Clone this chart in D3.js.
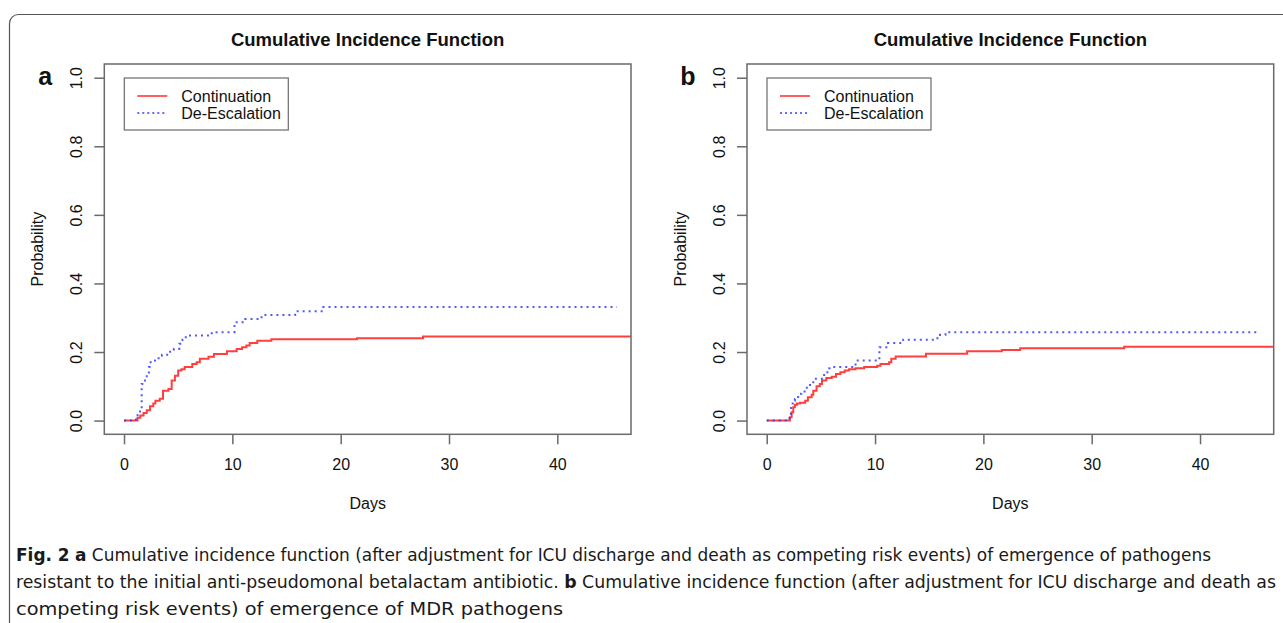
<!DOCTYPE html>
<html><head><meta charset="utf-8">
<script src="https://cdn.jsdelivr.net/npm/d3@7"></script>
<style>body{margin:0;background:#fff}svg{display:block}</style>
</head><body>
<script>
// ---------- data ----------
const chartTitle = "Cumulative Incidence Function";
const panelLabels = ["a", "b"];
const seriesNames = ["Continuation", "De-Escalation"];
const xTicks = [0, 10, 20, 30, 40];
const yTicks = [0, 0.2, 0.4, 0.6, 0.8, 1.0];
const yTickLabels = ["0.0", "0.2", "0.4", "0.6", "0.8", "1.0"];
const xLabel = "Days";
const yLabel = "Probability";

// Panel a – Continuation (days, cumulative incidence)
const aContDays = [0, 1.25, 1.5, 1.8, 2.1, 2.4, 2.7, 2.9, 3.3, 3.6, 4.1, 4.4, 4.7, 5.0, 5.3, 5.6, 6.3, 6.7, 7.0, 7.8, 8.3, 9.5, 10.4, 10.9, 11.3, 11.6, 12.3, 13.6, 21.5, 27.6, 46.8];
const aContProb = [0, 0.008, 0.015, 0.022, 0.03, 0.042, 0.05, 0.058, 0.064, 0.087, 0.092, 0.117, 0.131, 0.146, 0.150, 0.156, 0.165, 0.170, 0.180, 0.186, 0.194, 0.202, 0.209, 0.214, 0.219, 0.226, 0.233, 0.237, 0.240, 0.245, 0.245];
// Panel a – De-Escalation
const aDeDays = [0, 1.1, 1.25, 1.48, 1.63, 1.94, 2.1, 2.3, 2.46, 2.87, 3.5, 4.1, 4.6, 5.1, 5.4, 5.7, 8.1, 10.2, 10.4, 11.2, 12.7, 15.8, 18.4, 45.5];
const aDeProb = [0, 0.01, 0.02, 0.034, 0.107, 0.117, 0.136, 0.156, 0.175, 0.182, 0.192, 0.201, 0.209, 0.224, 0.236, 0.248, 0.258, 0.276, 0.287, 0.296, 0.308, 0.319, 0.331, 0.331];
// Panel b – Continuation
const bContDays = [0, 2.14, 2.3, 2.45, 2.6, 2.8, 3.08, 3.55, 3.8, 4.15, 4.3, 4.6, 4.9, 5.1, 5.5, 6.0, 6.4, 6.8, 7.2, 7.6, 8.2, 9.0, 10.2, 10.5, 11.3, 11.5, 11.9, 14.7, 18.5, 21.7, 23.4, 33.0, 46.8];
const bContProb = [0, 0.01, 0.024, 0.039, 0.046, 0.05, 0.052, 0.058, 0.068, 0.075, 0.087, 0.100, 0.107, 0.117, 0.124, 0.128, 0.136, 0.141, 0.146, 0.150, 0.153, 0.156, 0.160, 0.165, 0.170, 0.180, 0.187, 0.195, 0.202, 0.206, 0.211, 0.215, 0.215];
// Panel b – De-Escalation
const bDeDays = [0, 2.1, 2.25, 2.4, 2.6, 2.9, 3.2, 3.7, 4.3, 4.43, 5.3, 5.6, 5.8, 8.2, 10.4, 11.2, 12.6, 15.6, 16.0, 16.5, 45.5];
const bDeProb = [0, 0.02, 0.042, 0.058, 0.063, 0.078, 0.085, 0.104, 0.12, 0.122, 0.136, 0.153, 0.156, 0.175, 0.214, 0.226, 0.236, 0.240, 0.250, 0.258, 0.258];

const captionLines = [
  [["Fig. 2", true], ["  ", false], ["a", true], [" Cumulative incidence function (after adjustment for ICU discharge and death as competing risk events) of emergence of pathogens", false]],
  [["resistant to the initial anti-pseudomonal betalactam antibiotic. ", false], ["b", true], [" Cumulative incidence function (after adjustment for ICU discharge and death as", false]],
  [["competing risk events) of emergence of MDR pathogens", false]]
];
const captionWidths = [1195, 1260, 547];

// ---------- drawing ----------
const W = 1283, H = 623;
const svg = d3.select("body").append("svg").attr("width", W).attr("height", H)
  .style("font-family", "'Liberation Sans', Arial, Helvetica, sans-serif");
svg.append("rect").attr("width", W).attr("height", H).attr("fill", "#fff");

// outer frame
svg.append("rect").attr("x", 9.5).attr("y", 14.5).attr("width", 1320).attr("height", 700)
  .attr("rx", 9).attr("fill", "none").attr("stroke", "#555").attr("stroke-width", 1.2);

const panels = [
  {left: 104.3, label: panelLabels[0], cont: [aContDays, aContProb], de: [aDeDays, aDeProb]},
  {left: 747.0, label: panelLabels[1], cont: [bContDays, bContProb], de: [bDeDays, bDeProb]}
];
const boxW = 526.7, boxTop = 64, boxBottom = 434.3;
const colRed = "#ff2a2a", colBlue = "#2f3dff", axisCol = "#6a6a6a";
const fs = 16;

panels.forEach((p, i) => {
  const x = d3.scaleLinear().domain([-1.82, 46.8]).range([p.left, p.left + boxW]);
  const y = d3.scaleLinear().domain([-0.04, 1.04]).range([boxBottom, boxTop]);
  const g = svg.append("g");
  const cx = (p.left + p.left + boxW) / 2;

  // title
  g.append("text").attr("x", cx).attr("y", 46).attr("text-anchor", "middle")
    .attr("font-weight", "bold").attr("font-size", 18.5).attr("fill", "#111").text(chartTitle);
  // panel letter
  g.append("text").attr("x", p.left - 59).attr("y", 85).attr("text-anchor", "middle")
    .attr("font-weight", "bold").attr("font-size", 25).attr("fill", "#111").text(p.label);

  // clip
  const cid = "clip" + i;
  svg.append("clipPath").attr("id", cid).append("rect")
    .attr("x", p.left).attr("y", boxTop).attr("width", boxW).attr("height", boxBottom - boxTop);

  const line = d3.line().x(d => x(d[0])).y(d => y(d[1])).curve(d3.curveStepAfter);
  const contPts = p.cont[0].map((d, k) => [d, p.cont[1][k]]);
  const dePts = p.de[0].map((d, k) => [d, p.de[1][k]]);
  const cg = g.append("g").attr("clip-path", `url(#${cid})`);
  cg.append("path").attr("d", line(contPts)).attr("fill", "none")
    .attr("stroke", colRed).attr("stroke-width", 2).attr("opacity", 0.9);
  cg.append("path").attr("d", line(dePts)).attr("fill", "none")
    .attr("stroke", colBlue).attr("stroke-width", 2).attr("stroke-dasharray", "2,4").attr("opacity", 0.85);

  // box
  g.append("rect").attr("x", p.left).attr("y", boxTop).attr("width", boxW).attr("height", boxBottom - boxTop)
    .attr("fill", "none").attr("stroke", axisCol).attr("stroke-width", 1.5);

  // x axis
  const xa = g.append("g").attr("transform", `translate(0,${boxBottom})`)
    .call(d3.axisBottom(x).tickValues(xTicks).tickSize(10).tickSizeOuter(0).tickPadding(14).tickFormat(d3.format("d")));
  xa.select(".domain").remove();
  xa.selectAll(".tick line").attr("stroke", axisCol).attr("stroke-width", 1.5);
  xa.selectAll(".tick text").attr("font-size", fs).attr("fill", "#111").attr("font-family", null);

  // y axis
  const ya = g.append("g").attr("transform", `translate(${p.left},0)`)
    .call(d3.axisLeft(y).tickValues(yTicks).tickSize(10).tickSizeOuter(0).tickFormat((d, k) => yTickLabels[k]));
  ya.select(".domain").remove();
  ya.selectAll(".tick line").attr("stroke", axisCol).attr("stroke-width", 1.5);
  ya.selectAll(".tick text").attr("font-size", fs).attr("fill", "#111").attr("font-family", null)
    .attr("text-anchor", "middle").attr("x", null).attr("dy", null)
    .attr("transform", "translate(-28,0) rotate(-90)").attr("dominant-baseline", "central");

  // axis labels
  g.append("text").attr("x", cx).attr("y", 509).attr("text-anchor", "middle")
    .attr("font-size", fs).attr("fill", "#111").text(xLabel);
  g.append("text").attr("transform", `translate(${p.left - 61},${(boxTop + boxBottom) / 2}) rotate(-90)`)
    .attr("text-anchor", "middle").attr("font-size", fs).attr("fill", "#111").text(yLabel);

  // legend
  const lx = p.left + 20, ly = 78;
  const lg = g.append("g");
  lg.append("rect").attr("x", lx).attr("y", ly).attr("width", 164).attr("height", 52)
    .attr("fill", "#fff").attr("stroke", axisCol).attr("stroke-width", 1.2);
  lg.append("line").attr("x1", lx + 13).attr("x2", lx + 43).attr("y1", ly + 18).attr("y2", ly + 18)
    .attr("stroke", colRed).attr("stroke-width", 1.5);
  lg.append("line").attr("x1", lx + 13).attr("x2", lx + 43).attr("y1", ly + 35).attr("y2", ly + 35)
    .attr("stroke", colBlue).attr("stroke-width", 1.5).attr("stroke-dasharray", "2,3");
  lg.append("text").attr("x", lx + 57).attr("y", ly + 23.5).attr("font-size", fs).attr("fill", "#111").text(seriesNames[0]);
  lg.append("text").attr("x", lx + 57).attr("y", ly + 40.5).attr("font-size", fs).attr("fill", "#111").text(seriesNames[1]);
});

// caption
const capY = [561, 588, 615];
captionLines.forEach((runs, i) => {
  const t = svg.append("text").attr("x", 16).attr("y", capY[i])
    .attr("font-size", 17).attr("fill", "#1a1a1a")
    .style("font-family", "'Liberation Sans Narrow', 'DejaVu Sans Condensed', 'Open Sans', sans-serif")
    .attr("textLength", captionWidths[i]).attr("lengthAdjust", "spacingAndGlyphs");
  runs.forEach(r => {
    t.append("tspan").attr("font-weight", r[1] ? "bold" : "normal").text(r[0]);
  });
});
</script>
</body></html>
